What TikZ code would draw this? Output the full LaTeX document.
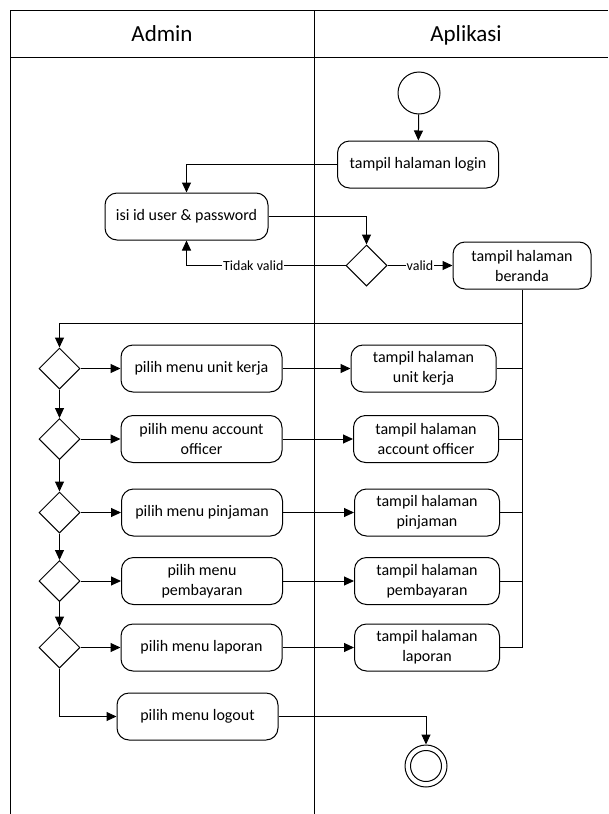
\documentclass[tikz,border=0pt]{standalone}
\usepackage{fontspec}
\setmainfont{Carlito}
\usetikzlibrary{arrows.meta,positioning,shapes,calc}
\tikzset{
  act/.style = {draw, rounded corners = 12pt, align = center, minimum width = 161pt, minimum height = 47pt, inner sep = 2pt, font = \fontsize{16}{20}\selectfont},
  show/.style = {act, minimum width = 145pt},
  dec/.style = {draw, diamond, minimum width = 41pt, minimum height = 41pt, inner sep = 0pt},
  initial/.style = {draw, circle, minimum size = 42pt, inner sep = 0pt},
  flow/.style = {-{Triangle[length = 10pt, width = 9pt]}},
  lbl/.style = {fill = white, inner sep = 1pt, font = \fontsize{14}{16}\selectfont},
  lane/.style = {anchor = base, font = \fontsize{23}{27}\selectfont}
}

\begin{document}
\begin{tikzpicture}[x = 1pt, y = -1pt, line width = 1pt]
  \useasboundingbox (0,0) rectangle (608,814);
  % swimlanes
  \draw (10,814) |- (608,10);
  \draw (10,57) -- (608,57);
  \draw (314,10) -- (314,814);
  \node[lane] (admin) at (162,41) {Admin};
  \node[lane] (aplikasi) at (466,41) {Aplikasi};
  % login
  \node[initial] (start) at (419,93) {};
  \node[act] (login) at (418,164.5) {tampil halaman login};
  \node[act, minimum width = 163pt] (isi) at (186.5,216.5) {isi id user \& password};
  \node[dec] (cek) at (366.5,265.5) {};
  \node[act, minimum width = 138pt] (beranda) at (522,265.5) {tampil halaman\\beranda};
  \coordinate (balik) at (522,323);
  % menu
  \node[dec] (d1) at (59.5,368.5) {};
  \node[dec] (d2) at (59.5,439) {};
  \node[dec] (d3) at (59.5,512.5) {};
  \node[dec] (d4) at (59.5,581) {};
  \node[dec] (d5) at (59.5,647.5) {};
  \node[act] (p1) at (201.5,368.5) {pilih menu unit kerja};
  \node[act] (p2) at (201.5,439) {pilih menu account\\officer};
  \node[act] (p3) at (202,512.5) {pilih menu pinjaman};
  \node[act] (p4) at (202,581) {pilih menu\\pembayaran};
  \node[act] (p5) at (201.5,647.5) {pilih menu laporan};
  \node[act] (logout) at (197.5,716.5) {pilih menu logout};
  \node[show] (t1) at (423.5,368.5) {tampil halaman\\unit kerja};
  \node[show] (t2) at (426,439) {tampil halaman\\account officer};
  \node[show] (t3) at (427,512.5) {tampil halaman\\pinjaman};
  \node[show] (t4) at (427,581) {tampil halaman\\pembayaran};
  \node[show] (t5) at (427,647.5) {tampil halaman\\laporan};
  \node[initial] (end) at (426,766) {};
  \node[draw, circle, minimum size = 31pt, inner sep = 0pt] (endin) at (end) {};
  % flows
  \draw[flow] (start) -- (login);
  \draw[flow] (login.west) -| (isi.north);
  \draw[flow] (isi.east) -| (cek.north);
  \draw[flow] (cek.west) -| node[lbl, pos = .29] {Tidak valid} (isi.south);
  \draw[flow] (cek.east) -- node[lbl] {valid} (beranda.west);
  \draw[flow] (beranda.south) -- (balik) -| (d1.north);
  \draw[flow] (d1.south) -- (d2.north);
  \draw[flow] (d2.south) -- (d3.north);
  \draw[flow] (d3.south) -- (d4.north);
  \draw[flow] (d4.south) -- (d5.north);
  \draw[flow] (d1.east) -- (p1.west);
  \draw[flow] (d2.east) -- (p2.west);
  \draw[flow] (d3.east) -- (p3.west);
  \draw[flow] (d4.east) -- (p4.west);
  \draw[flow] (d5.east) -- (p5.west);
  \draw[flow] (p1.east) -- (t1.west);
  \draw[flow] (p2.east) -- (t2.west);
  \draw[flow] (p3.east) -- (t3.west);
  \draw[flow] (p4.east) -- (t4.west);
  \draw[flow] (p5.east) -- (t5.west);
  \draw (t1.east) -- (t1.east -| balik);
  \draw (t2.east) -- (t2.east -| balik);
  \draw (t3.east) -- (t3.east -| balik);
  \draw (t4.east) -- (t4.east -| balik);
  \draw (t5.east) -| (balik);
  \draw[flow] (d5.south) |- (logout.west);
  \draw[flow] (logout.east) -| (end.north);
\end{tikzpicture}
\end{document}
